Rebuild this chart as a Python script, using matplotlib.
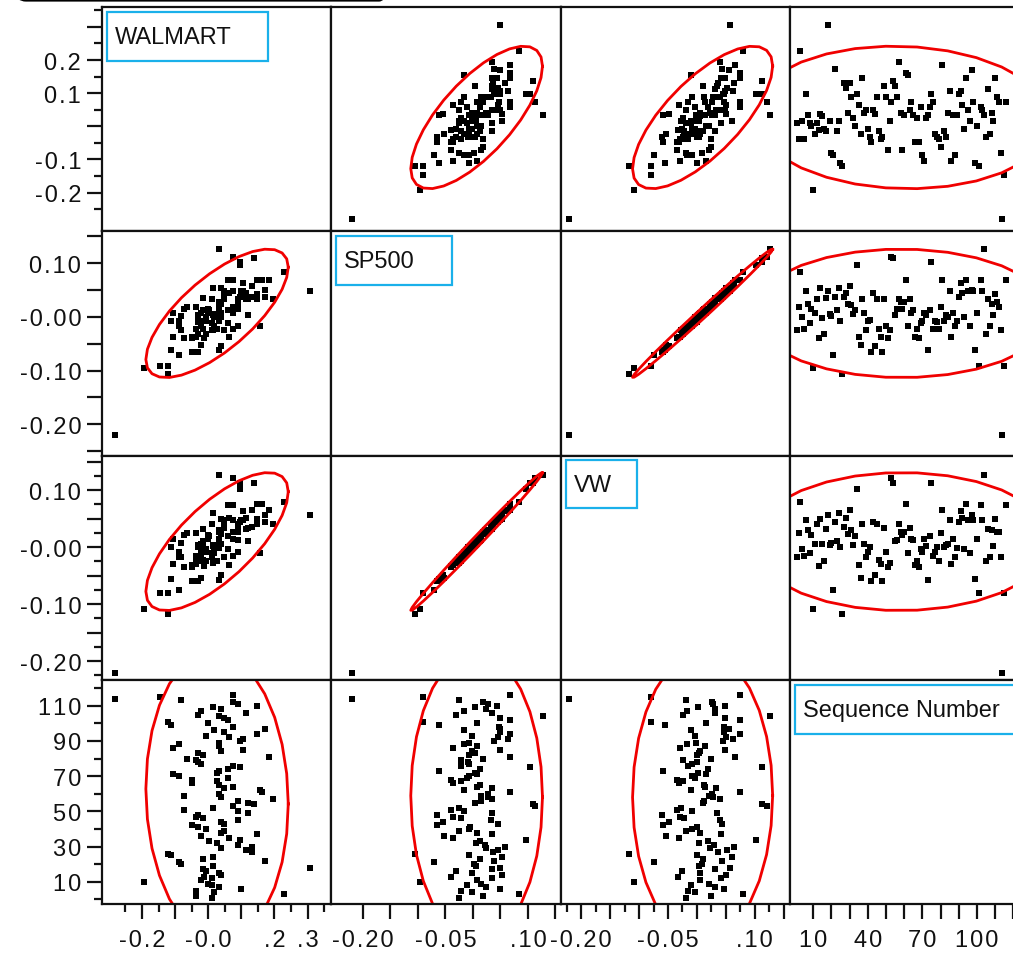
import numpy as np
import matplotlib
matplotlib.use("Agg")
import matplotlib.pyplot as plt
from matplotlib.patches import FancyBboxPatch, Rectangle

plt.rcParams['font.family'] = ['Liberation Sans', 'DejaVu Sans']

# monthly returns, in sequence order
walmart = [0.010, -0.038, 0.228, 0.017, -0.038, 0.098, 0.034, 0.010, 0.000, -0.193,
           -0.023, 0.010, -0.012, 0.038, 0.032, -0.008, -0.015, 0.307, 0.015, -0.081,
           -0.087, 0.172, -0.015, 0.015, -0.111, -0.121, 0.131, 0.115, 0.040, 0.131,
           0.089, 0.025, 0.002, 0.097, 0.064, -0.023, 0.146, 0.040, 0.048, -0.008,
           -0.032, -0.048, 0.048, 0.038, 0.089, -0.015, -0.038, -0.032, 0.121, 0.089,
           -0.072, 0.015, 0.074, 0.137, 0.121, 0.089, 0.195, 0.040, -0.072, 0.034,
           0.162, 0.155, 0.048, 0.074, 0.034, -0.048, 0.025, -0.048, 0.059, -0.087,
           -0.105, 0.025, 0.034, 0.059, 0.097, 0.074, -0.023, -0.032, -0.038, -0.063,
           0.185, -0.015, -0.032, 0.040, 0.106, -0.105, 0.034, -0.087, 0.034, 0.097,
           0.106, 0.064, -0.008, 0.146, 0.048, 0.017, 0.171, 0.074, -0.111, 0.000,
           -0.121, 0.059, 0.048, 0.034, -0.032, 0.113, -0.023, 0.040, 0.015, 0.146,
           0.089, 0.074, -0.081, -0.281, -0.146, 0.074]

sp500 = [-0.025, 0.019, 0.083, -0.001, -0.022, 0.049, 0.024, -0.011, 0.014, -0.096,
         0.008, 0.034, -0.040, 0.053, -0.002, -0.031, 0.035, 0.049, 0.006, 0.001,
         -0.070, 0.038, 0.013, 0.053, -0.007, -0.106, 0.037, 0.045, 0.024, 0.058,
         0.022, 0.006, 0.013, 0.097, -0.037, -0.052, 0.034, 0.008, -0.025, -0.008,
         -0.006, -0.066, 0.045, -0.055, 0.033, -0.022, -0.037, -0.066, 0.034, -0.016,
         -0.040, -0.025, 0.112, 0.109, 0.004, 0.014, 0.034, 0.028, 0.015, 0.027,
         0.068, -0.016, 0.034, 0.008, 0.013, -0.037, -0.022, -0.040, -0.011, -0.007,
         0.008, 0.004, -0.061, 0.013, 0.103, -0.022, -0.007, -0.009, -0.022, 0.019,
         0.068, -0.007, 0.004, -0.001, 0.049, -0.037, 0.008, -0.016, -0.007, 0.038,
         0.064, 0.045, -0.001, 0.068, 0.049, -0.016, 0.050, 0.048, -0.061, 0.008,
         -0.091, 0.068, 0.049, 0.127, -0.031, 0.034, -0.016, 0.024, 0.004, 0.043,
         0.028, 0.019, -0.025, -0.219, -0.091, 0.068]

vw = [-0.018, 0.025, 0.079, -0.004, -0.016, 0.047, 0.031, -0.011, 0.021, -0.108,
      0.006, 0.041, -0.033, 0.050, 0.006, -0.025, 0.032, 0.057, 0.004, 0.008,
      -0.075, 0.044, 0.011, 0.060, 0.001, -0.117, 0.036, 0.052, 0.023, 0.065,
      0.030, 0.003, 0.020, 0.102, -0.031, -0.054, 0.041, 0.006, -0.018, -0.009,
      0.001, -0.059, 0.044, -0.049, 0.040, -0.023, -0.030, -0.060, 0.034, -0.009,
      -0.034, -0.027, 0.122, 0.113, 0.011, 0.013, 0.040, 0.027, 0.021, 0.026,
      0.075, -0.010, 0.033, 0.014, 0.012, -0.031, -0.024, -0.034, -0.004, -0.009,
      0.015, 0.002, -0.058, 0.019, 0.113, -0.015, -0.008, 0.000, -0.024, 0.025,
      0.066, 0.001, 0.003, 0.006, 0.048, -0.030, 0.014, -0.017, -0.001, 0.045,
      0.063, 0.051, -0.003, 0.075, 0.047, -0.010, 0.056, 0.047, -0.055, 0.015,
      -0.080, 0.074, 0.048, 0.127, -0.024, 0.032, -0.017, 0.031, 0.002, 0.049,
      0.027, 0.026, -0.018, -0.221, -0.080, 0.074]

seq = list(range(1, len(walmart) + 1))

names = ['WALMART', 'SP500', 'VW', 'Sequence Number']
data = [np.array(walmart), np.array(sp500), np.array(vw), np.array(seq, float)]

# axis ranges: as column (x) and as row (y)
col_lims = [(-0.321, 0.371), (-0.258, 0.160), (-0.235, 0.161), (-2.75, 123.1)]
row_lims = [(-0.316, 0.360), (-0.259, 0.160), (-0.233, 0.160), (-2.6, 124.6)]

# ticks: (long ticks, short ticks, labels for long ticks)
y_ticks = [
    ([-0.2, -0.1, 0.0, 0.1, 0.2, 0.3], [-0.25, -0.15, -0.05, 0.05, 0.15, 0.25, 0.35],
     ['-0.2', '-0.1', '', '0.1', '0.2', '']),
    ([-0.25, -0.2, -0.15, -0.1, -0.05, 0.0, 0.05, 0.1, 0.15], [],
     ['', '-0.20', '', '-0.10', '', '-0.00', '', '0.10', '']),
    ([-0.2, -0.15, -0.1, -0.05, 0.0, 0.05, 0.1, 0.15],
     [-0.225, -0.175, -0.125, -0.075, -0.025, 0.025, 0.075, 0.125],
     ['-0.20', '', '-0.10', '', '-0.00', '', '0.10', '']),
    ([10, 30, 50, 70, 90, 110], [0, 20, 40, 60, 80, 100, 120],
     ['10', '30', '50', '70', '90', '110']),
]
x_ticks = [
    ([-0.2, -0.1, 0.0, 0.1, 0.2, 0.3], [-0.25, -0.15, -0.05, 0.05, 0.15, 0.25, 0.35],
     ['-0.2', '', '-0.0', '', '.2', '.3']),
    ([-0.2, -0.15, -0.1, -0.05, 0.0, 0.05, 0.1, 0.15], [],
     ['-0.20', '', '', '-0.05', '', '', '.10', '']),
    ([-0.2, -0.15, -0.1, -0.05, 0.0, 0.05, 0.1, 0.15],
     [-0.225, -0.175, -0.125, -0.075, -0.025, 0.025, 0.075, 0.125],
     ['-0.20', '', '', '-0.05', '', '', '.10', '']),
    ([10, 20, 30, 40, 50, 60, 70, 80, 90, 100, 110, 120], [],
     ['10', '', '', '40', '', '', '70', '', '', '100', '', '']),
]

W, H = 1013, 954
col_edges = [102, 331, 561, 790, 1019]
row_edges = [8, 232, 457, 681, 905]
R95 = np.sqrt(5.991)


def spaced(s):
    # JMP draws its tick labels with loose letter spacing
    return '\u200a'.join(s)


def density_ellipse(x, y, n=31):
    m = np.array([x.mean(), y.mean()])
    L = np.linalg.cholesky(np.cov(x, y))
    t = np.linspace(0, 2 * np.pi, n)
    return m[:, None] + R95 * L @ np.vstack([np.cos(t), np.sin(t)])


fig = plt.figure(figsize=(W / 100, H / 100), dpi=100)

for r in range(4):
    for c in range(4):
        x0, x1 = col_edges[c], col_edges[c + 1]
        y0, y1 = row_edges[r], row_edges[r + 1]
        ax = fig.add_axes([x0 / W, 1 - y1 / H, (x1 - x0) / W, (y1 - y0) / H])
        ax.set_xlim(col_lims[c])
        ax.set_ylim(row_lims[r])
        for s in ax.spines.values():
            s.set_linewidth(1.6)
            s.set_color('#111111')
        if r != c:
            xv, yv = data[c], data[r]
            ax.plot(xv, yv, 's', ms=4.0, mew=0, color='black')
            ex, ey = density_ellipse(xv, yv)
            ax.plot(ex, ey, color='#f00000', lw=2.0)
        ax.tick_params(which='both', direction='out', width=1.6, color='#111111',
                       labelsize=17, labelcolor='#111111')
        ax.tick_params(which='major', length=11)
        ax.tick_params(which='minor', length=5.5)
        if c == 0:
            major, minor, labels = y_ticks[r]
            ax.set_yticks(major, [spaced(l) for l in labels])
            ax.set_yticks(minor, minor=True)
            ax.tick_params(axis='y', pad=4)
        else:
            ax.set_yticks([])
        if r == 3:
            major, minor, labels = x_ticks[c]
            ax.set_xticks(major, [spaced(l) for l in labels])
            ax.set_xticks(minor, minor=True)
            ax.tick_params(axis='x', pad=7)
        else:
            ax.set_xticks([])

# overlay in pixel units for the label boxes
ov = fig.add_axes([0, 0, 1, 1])
ov.set_xlim(0, W)
ov.set_ylim(H, 0)
ov.axis('off')
ov.patch.set_alpha(0)

boxes = [(107, 13, 161, 49), (336, 237, 116, 49), (566, 461, 71, 48), (795, 686, 240, 49)]
for name, (bx, by, bw, bh) in zip(names, boxes):
    ov.add_patch(Rectangle((bx, by), bw, bh, fc='white', ec='#1ab0ea', lw=1.6))
    ov.text(bx + 8, by + bh / 2 + 1, name, fontsize=17, color='#111111',
            ha='left', va='center')

ov.add_patch(FancyBboxPatch((17, -40), 371, 41.5, boxstyle='round,pad=0,rounding_size=9',
                            fc='none', ec='black', lw=1.6))

fig.savefig('out.png', dpi=100)
